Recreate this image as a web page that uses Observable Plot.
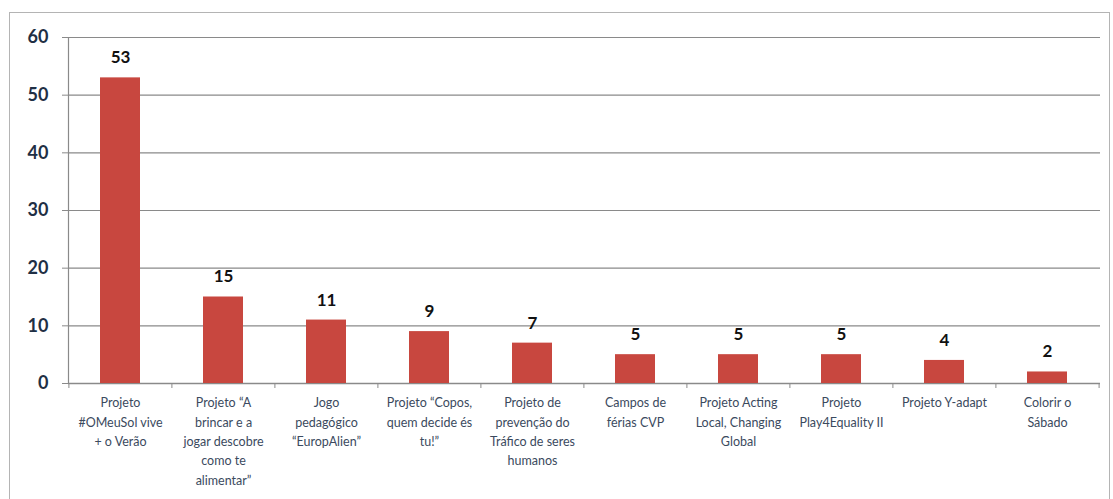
<!DOCTYPE html>
<html>
<head>
<meta charset="utf-8">
<script src="https://cdn.jsdelivr.net/npm/d3@7"></script>
<script src="https://cdn.jsdelivr.net/npm/@observablehq/plot@0.6"></script>
<style>
  html, body { margin: 0; padding: 0; background: #fff; }
  #wrap { position: relative; width: 1113px; height: 499px; overflow: hidden; }
  #border { position: absolute; left: 9px; top: 12px; width: 1101px; height: 520px; border: 1px solid #b4b4b4; box-sizing: border-box; }
  #chart { position: absolute; left: 0; top: 0; }
</style>
</head>
<body>
<div id="wrap"><div id="border"></div><div id="chart"></div></div>
<script>
const categories = [
  "Projeto\n#OMeuSol vive\n+ o Verão",
  "Projeto “A\nbrincar e a\njogar descobre\ncomo te\nalimentar”",
  "Jogo\npedagógico\n“EuropAlien”",
  "Projeto “Copos,\nquem decide és\ntu!”",
  "Projeto de\nprevenção do\nTráfico de seres\nhumanos",
  "Campos de\nférias CVP",
  "Projeto Acting\nLocal, Changing\nGlobal",
  "Projeto\nPlay4Equality II",
  "Projeto Y-adapt",
  "Colorir o\nSábado"
];
const values = [53, 15, 11, 9, 7, 5, 5, 5, 4, 2];
const yTicks = [0, 10, 20, 30, 40, 50, 60];

const data = categories.map((c, i) => ({category: c, value: values[i]}));

const W = 1113, H = 499, ML = 68, MR = 13;
const halfBand = (W - ML - MR) / categories.length / 2;

const chart = Plot.plot({
  width: W,
  height: H,
  marginLeft: ML,
  marginRight: MR,
  marginTop: 37,
  marginBottom: 116,
  style: {fontFamily: "Lato, 'Open Sans', sans-serif", background: "transparent"},
  x: {domain: categories, paddingInner: 0.61, paddingOuter: 0.305, label: null},
  y: {domain: [0, 60], ticks: yTicks, label: null},
  marks: [
    Plot.gridY(yTicks, {stroke: "#8a8a8a", strokeOpacity: 1, strokeWidth: 1.2}),
    Plot.frame({anchor: "left", stroke: "#8a8a8a", strokeWidth: 1.2}),
    Plot.ruleY([0], {stroke: "#8a8a8a", strokeWidth: 1.4}),
    Plot.ruleX(categories, {x: d => d, dx: -halfBand, y1: 0, y2: 0, insetBottom: -5, stroke: "#8a8a8a"}),
    Plot.ruleX([categories[categories.length - 1]], {x: d => d, dx: halfBand, y1: 0, y2: 0, insetBottom: -5, stroke: "#8a8a8a"}),
    Plot.barY(data, {x: "category", y: "value", fill: "#C8473F"}),
    Plot.text(data, {x: "category", y: "value", text: d => String(d.value), dy: -20, fontSize: 17, fontWeight: "bold", fill: "#111"}),
    Plot.axisY({ticks: yTicks, tickSize: 6, tickPadding: 14, fontSize: 18, fontWeight: "bold", fill: "#1f2f45", stroke: "#8a8a8a", label: null}),
    Plot.axisX({tickSize: 0, tickPadding: 10, fontSize: 12.5, lineHeight: 1.55, fill: "#3b4a5e", label: null})
  ]
});
document.getElementById("chart").appendChild(chart);
</script>
</body>
</html>
